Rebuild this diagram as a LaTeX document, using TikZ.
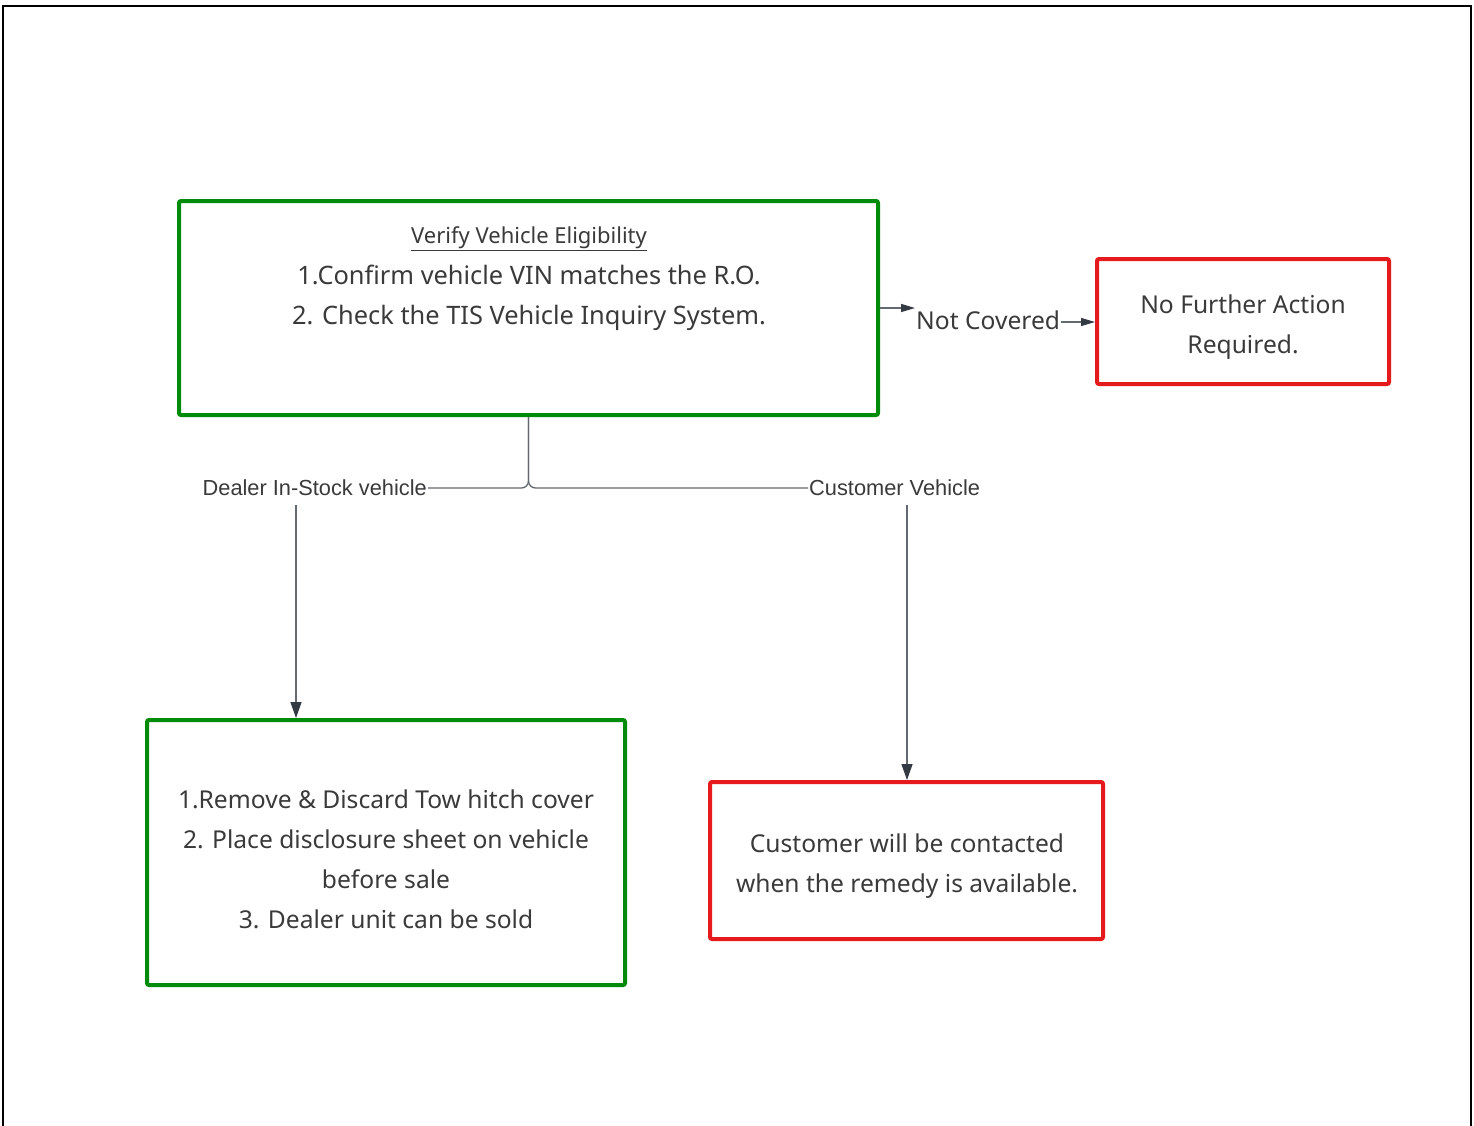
\documentclass[tikz,border=0pt]{standalone}
\usepackage{fontspec}
\setmainfont{Noto Sans}
\newfontfamily\lblfont{Liberation Sans}
\usetikzlibrary{arrows.meta}
\definecolor{boxgreen}{RGB}{0,140,10}
\definecolor{boxred}{RGB}{228,26,28}
\definecolor{txt}{RGB}{58,58,58}
\definecolor{conn}{RGB}{100,104,112}
\definecolor{tip}{RGB}{52,58,68}
\begin{document}
\begin{tikzpicture}[x=1pt,y=-1pt,
  box/.style={draw,line width=4pt,rounded corners=2pt,inner sep=0pt},
  gbox/.style={box,draw=boxgreen},
  rbox/.style={box,draw=boxred},
  btxt/.style={text=txt,align=center,font=\fontsize{24.6}{40}\selectfont,inner sep=0pt},
  lbl/.style={text=txt,font=\lblfont\fontsize{21.8}{24}\selectfont,inner sep=1pt},
  conline/.style={draw=conn,line width=1.3pt},
  bigtip/.style={-{Triangle[length=16pt,width=11pt,fill=tip,color=tip]}},
  smalltip/.style={-{Triangle[length=14pt,width=8pt,fill=tip,color=tip]}}
]
\useasboundingbox (0,0) rectangle (1474,1125);
\fill[white] (0,0) rectangle (1474,1125);
\draw[line width=2.5pt,black] (3,1126) -- (3,6) -- (1471,6) -- (1471,1126);

% boxes
\node[gbox,minimum width=699pt,minimum height=214pt] (A) at (528.5,308) {};
\node[rbox,minimum width=292pt,minimum height=125pt] (B) at (1243,321.5) {};
\node[gbox,minimum width=478pt,minimum height=265pt] (C) at (386,852.5) {};
\node[rbox,minimum width=393pt,minimum height=157pt] (D) at (906.5,860.5) {};

% texts
\node[btxt] (At) at (529,239) {\fontsize{22}{24}\selectfont\underline{Verify Vehicle Eligibility}};
\node[btxt] (A1) at (529,275) {\fontsize{25.4}{40}\selectfont 1.Confirm vehicle VIN matches the R.O.};
\node[btxt] (A2) at (529,318) {\fontsize{25.4}{40}\selectfont 2. Check the TIS Vehicle Inquiry System.};
\node[btxt] (Bt) at (1243,327) {No Further Action\\Required.};
\node[btxt] (Ct) at (386,859) {1.Remove \& Discard Tow hitch cover\\2. Place disclosure sheet on vehicle\\before sale\\3. Dealer unit can be sold};
\node[btxt] (Dt) at (907,866) {Customer will be contacted\\when the remedy is available.};

% labels
\coordinate (j) at (528.5,488);
\node[lbl,anchor=east] (dl) at (428,488) {Dealer In-Stock vehicle};
\node[lbl,anchor=west] (cv) at (808,488) {Customer Vehicle};
\node[text=txt,font=\fontsize{24.6}{26}\selectfont,inner sep=1pt,anchor=west] (nc) at (915,320) {Not Covered};

% connectors
\draw[conline,rounded corners=7pt] (dl.east) -- (j) -- (A.south);
\draw[conline,rounded corners=7pt] (cv.west) -- (j) -- (A.south);
\coordinate (d1) at (296,505);
\coordinate (d2) at (907,505);
\draw[conline,bigtip] (d1) -- (d1 |- C.north);
\draw[conline,bigtip] (d2) -- (d2 |- D.north);
\draw[conline,smalltip] (A.east |- 0,308) -- (nc.west |- 0,308);
\draw[conline,smalltip] (nc.east |- 0,322) -- (B.west |- 0,322);
\end{tikzpicture}
\end{document}
